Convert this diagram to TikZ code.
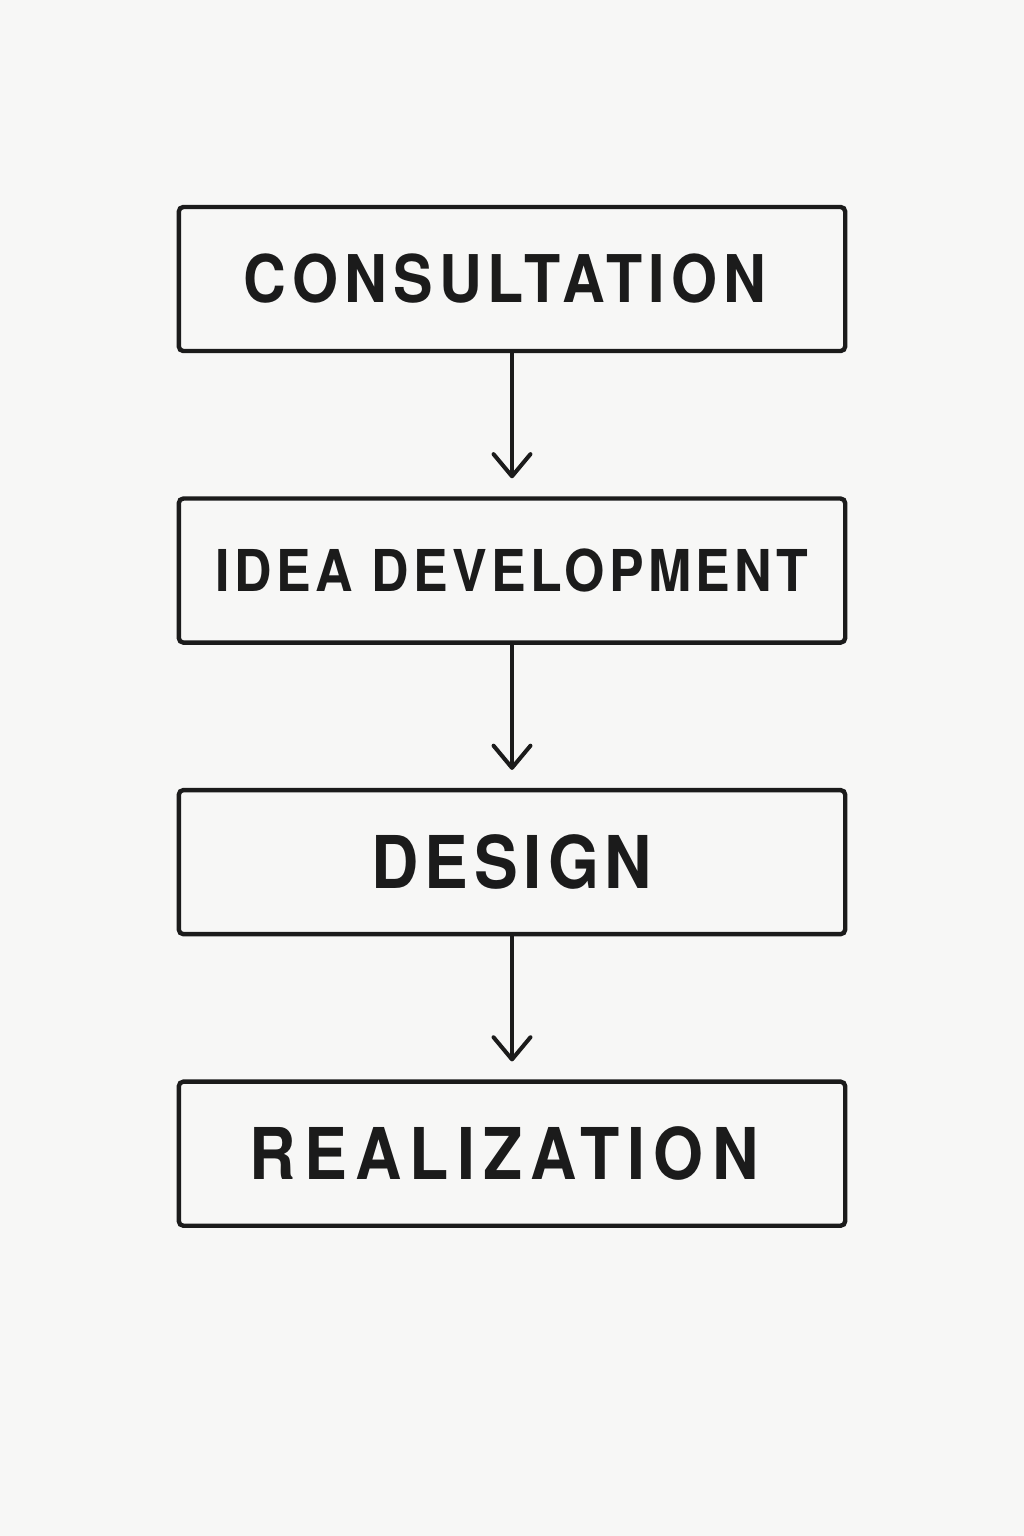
\documentclass[tikz,border=0pt]{standalone}
\usepackage{fontspec}
\setmainfont{TeX Gyre Heros}
\newfontfamily\stagefont[LetterSpace=8,FakeStretch=0.9]{TeX Gyre Heros}
\usetikzlibrary{positioning,arrows.meta}
\definecolor{paper}{HTML}{F7F7F6}
\definecolor{ink}{HTML}{1B1B1B}

\begin{document}
\begin{tikzpicture}[x=0.01cm,y=-0.01cm]
\tikzstyle{stage}=[rectangle,draw=ink,line width=1.25pt,rounded corners=1.3pt,minimum width=6.66cm,minimum height=1.44cm,text=ink,font=\stagefont\bfseries]
\tikzstyle{flow}=[draw=ink,line width=1.15pt,shorten >=0.18cm,-{Straight Barb[length=6.3pt,width=10.5pt,line cap=round,line join=round]}]
\fill[paper] (0,0) rectangle (1024,1536);
\useasboundingbox (0,0) rectangle (1024,1536);
\node[stage] (consult) at (512,279) {\fontsize{18.7}{22}\selectfont\addfontfeature{LetterSpace=9.5}CONSULTATION\kern4pt};
\node[stage,below=1.43cm of consult] (idea) {\fontsize{16.4}{20}\selectfont\addfontfeature{LetterSpace=7.5}IDEA DEVELOPMENT};
\node[stage,below=1.43cm of idea] (design) {\fontsize{20.7}{24}\selectfont DESIGN};
\node[stage,below=1.43cm of design] (real) {\fontsize{20.3}{24}\selectfont\addfontfeature{LetterSpace=11.5}REALIZATION\kern4.5pt};
\draw[flow] (consult) -- (idea);
\draw[flow] (idea) -- (design);
\draw[flow] (design) -- (real);
\end{tikzpicture}
\end{document}
